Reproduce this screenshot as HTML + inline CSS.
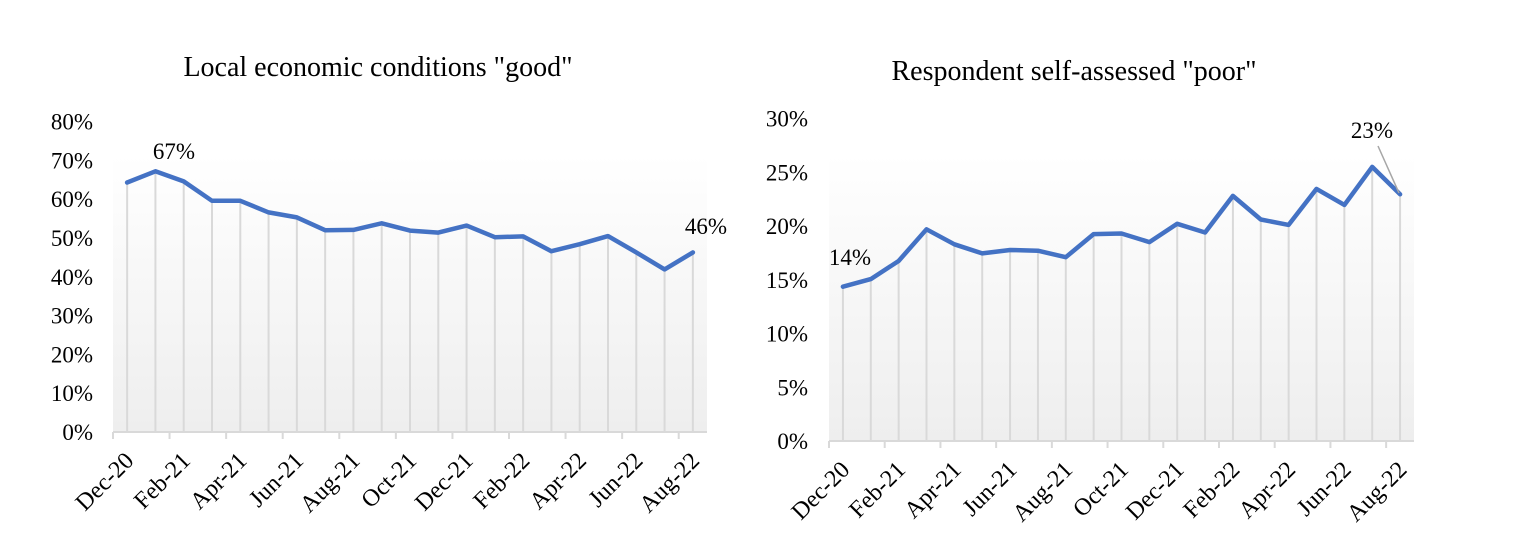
<!DOCTYPE html>
<html><head><meta charset="utf-8"><style>
html,body{margin:0;padding:0;background:#fff;}
svg{display:block;font-family:"Liberation Serif",serif;}
</style></head><body>
<svg width="1531" height="553" viewBox="0 0 1531 553" xmlns="http://www.w3.org/2000/svg">
<defs>
<linearGradient id="g" x1="0" y1="0" x2="0" y2="1">
<stop offset="0" stop-color="#ffffff"/>
<stop offset="1" stop-color="#eeeeee"/>
</linearGradient>
</defs>
<g id="left"></g>
<g id="right"></g>
<text x="378" y="76" font-size="28" text-anchor="middle">Local economic conditions "good"</text>
<text x="1074" y="80" font-size="28" text-anchor="middle">Respondent self-assessed "poor"</text>
</svg>
<script>
function build(gid,opt){
 var g=document.getElementById(gid),s="";
 var x0=opt.x0,x1=opt.x1,y0=opt.y0,n=opt.vals.length,cw=(x1-x0)/n;
 var Y=function(v){return y0-v*opt.ppu;};
 s+='<rect x="'+x0+'" y="'+opt.top+'" width="'+(x1-x0)+'" height="'+(y0-opt.top)+'" fill="url(#g)"/>';
 var pts=[];
 for(var i=0;i<n;i++){var x=x0+cw*(i+0.5),y=Y(opt.vals[i]);pts.push(x.toFixed(1)+','+y.toFixed(1));
  s+='<line x1="'+x+'" y1="'+y+'" x2="'+x+'" y2="'+y0+'" stroke="#d9d9d9" stroke-width="2"/>';}
 s+='<line x1="'+x0+'" y1="'+y0+'" x2="'+x1+'" y2="'+y0+'" stroke="#d9d9d9" stroke-width="2"/>';
 var labs=["Dec-20","Feb-21","Apr-21","Jun-21","Aug-21","Oct-21","Dec-21","Feb-22","Apr-22","Jun-22","Aug-22"];
 for(var k=0;k<11;k++){var tx=x0+cw*2*k;
  s+='<line x1="'+tx+'" y1="'+y0+'" x2="'+tx+'" y2="'+(y0+7)+'" stroke="#d9d9d9" stroke-width="2"/>';
  s+='<text font-size="24" text-anchor="end" transform="translate('+(tx+22)+','+(y0+30)+') rotate(-45)">'+labs[k]+'</text>';}
 for(var t=0;t<opt.ticks.length;t++){var v=opt.ticks[t];
  s+='<text x="'+opt.lx+'" y="'+(Y(v)+8)+'" font-size="23" text-anchor="end">'+v+'%</text>';}
 s+='<polyline points="'+pts.join(' ')+'" fill="none" stroke="#4472c4" stroke-width="4.5" stroke-linejoin="round" stroke-linecap="round"/>';
 s+=opt.extra;
 g.innerHTML=s;
}
build("left",{x0:113,x1:707,y0:432,top:155,ppu:3.88,lx:93,ticks:[0,10,20,30,40,50,60,70,80],
 vals:[64.3,67.2,64.6,59.6,59.6,56.6,55.3,52,52.1,53.8,51.9,51.4,53.2,50.2,50.4,46.6,48.4,50.5,46.3,41.9,46.3],
 extra:'<text x="174" y="159" font-size="23" text-anchor="middle">67%</text><text x="706" y="234" font-size="23" text-anchor="middle">46%</text>'});
build("right",{x0:829,x1:1414,y0:441,top:155,ppu:10.75,lx:808,ticks:[0,5,10,15,20,25,30],
 vals:[14.35,15.06,16.74,19.69,18.3,17.45,17.77,17.7,17.1,19.25,19.3,18.5,20.2,19.4,22.8,20.6,20.1,23.45,21.96,25.5,22.95],
 extra:'<text x="850" y="265" font-size="23" text-anchor="middle">14%</text><text x="1372" y="138" font-size="23" text-anchor="middle">23%</text><line x1="1378" y1="146" x2="1399" y2="193" stroke="#a6a6a6" stroke-width="1.5"/>'});
</script>
</body></html>
